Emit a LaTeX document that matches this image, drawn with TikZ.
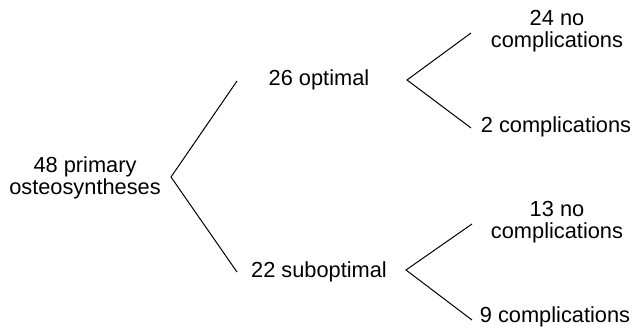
\documentclass[tikz,border=0pt]{standalone}
\usepackage{fontspec}
\setmainfont{Liberation Sans}
\begin{document}
\begin{tikzpicture}[x=1pt,y=-1pt,
  lbl/.style={inner sep=0pt,align=center,font=\fontsize{21.8}{22.5}\selectfont},
  branch/.style={draw=black,line width=1pt}]
\useasboundingbox (0,0) rectangle (635,327);
% texts
\node[lbl] (root) at (85,178) {48 primary\\osteosyntheses};
\node[lbl] (opt) at (319,80) {26 optimal};
\node[lbl] (sub) at (319,272) {22 suboptimal};
\node[lbl] (ono) at (557,31) {24 no\\complications};
\node[lbl] (oco) at (556,127) {2 complications};
\node[lbl] (sno) at (557,222) {13 no\\complications};
\node[lbl] (sco) at (555,316.5) {9 complications};
% branch points
\coordinate (r0) at (171,177);
\coordinate (r1) at (237,81);
\coordinate (r2) at (237,272);
\coordinate (o0) at (407,80);
\coordinate (o1) at (471,33);
\coordinate (o2) at (471,128);
\coordinate (s0) at (406,270);
\coordinate (s1) at (472,224);
\coordinate (s2) at (472,320);
\draw[branch] (r1) -- (r0) -- (r2);
\draw[branch] (o1) -- (o0) -- (o2);
\draw[branch] (s1) -- (s0) -- (s2);
\end{tikzpicture}
\end{document}
